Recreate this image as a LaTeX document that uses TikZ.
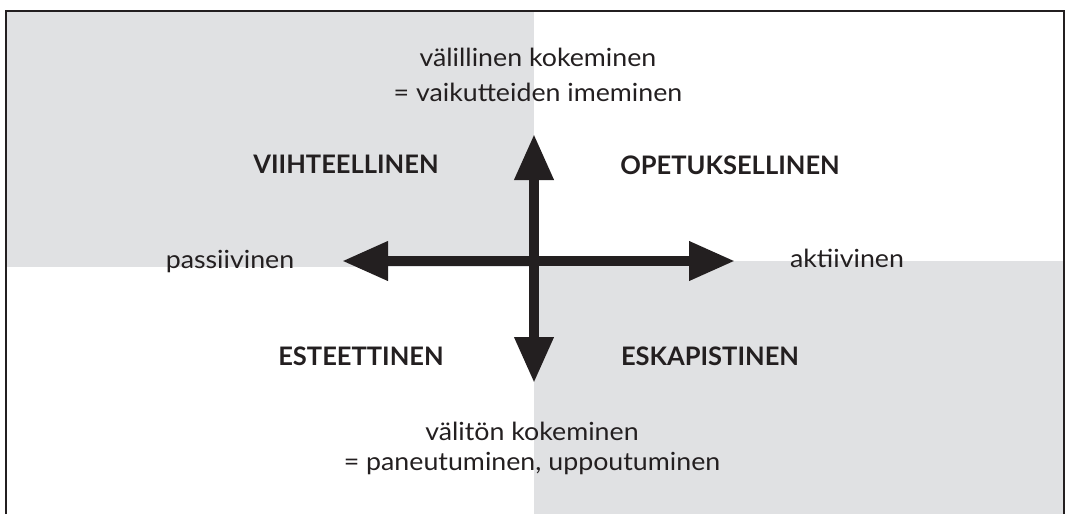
\documentclass[tikz,border=0pt]{standalone}
\usepackage{fontspec}
\setmainfont{Lato}
\newfontfamily\lowfont{Lato}[FakeStretch=1.07]
\usetikzlibrary{arrows.meta}
\definecolor{quad}{RGB}{224,225,227}
\definecolor{ink}{RGB}{35,31,32}
\begin{document}
\begin{tikzpicture}[x=1pt,y=-1pt,
  lbl/.style={anchor=base, inner sep=0pt, text=ink, font=\lowfont\fontsize{25}{30}\selectfont},
  cat/.style={anchor=base, inner sep=0pt, text=ink, font=\fontsize{25.5}{30}\selectfont\bfseries},
  axis/.style={draw=ink, line width=10pt,
    {Triangle[length=46pt,width=37pt]}-{Triangle[length=46pt,width=37pt]}}]
\useasboundingbox (0,0) rectangle (1065,514);
\fill[quad] (6,11) rectangle (534,267);
\fill[quad] (534,261) rectangle (1064,514);
\draw[ink, line width=2.5pt] (6,514) -- (6,11) -- (1064,11) -- (1064,514);
% axes
\coordinate (top) at (534,134);
\coordinate (bot) at (534,383);
\coordinate (lef) at (342,261);
\coordinate (rig) at (735,261);
\draw[axis] (lef) -- (rig);
\draw[axis] (bot) -- (top);
% texts
\node[lbl] (t1) at (538,66) {välillinen kokeminen};
\node[lbl] (t2) at (538,101) {= vaikutteiden imeminen};
\node[lbl] (b1) at (532,440) {välitön kokeminen};
\node[lbl] (b2) at (532,470) {= paneutuminen, uppoutuminen};
\node[lbl] (pa) at (230,268) {passiivinen};
\node[lbl] (ak) at (847,267) {aktiivinen};
\node[cat] (vi) at (346,173) {VIIHTEELLINEN};
\node[cat] (op) at (730,174) {OPETUKSELLINEN};
\node[cat] (es) at (361,365) {ESTEETTINEN};
\node[cat] (ek) at (710,365) {ESKAPISTINEN};
\end{tikzpicture}
\end{document}
